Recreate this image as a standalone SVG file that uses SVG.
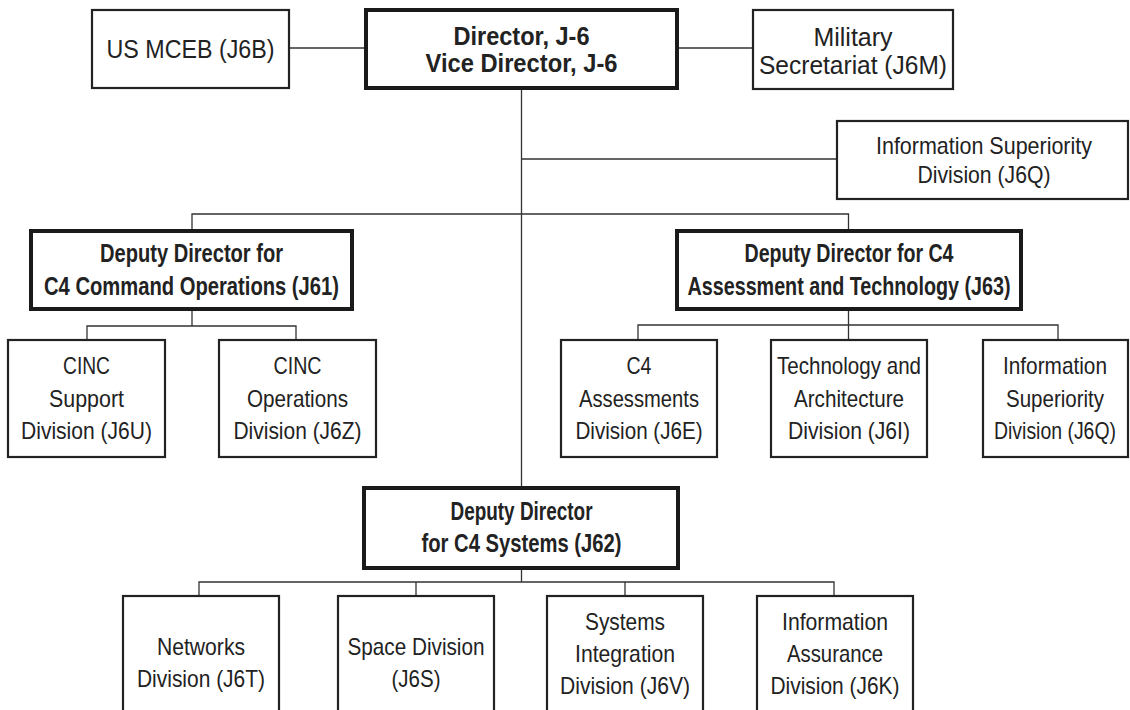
<svg xmlns="http://www.w3.org/2000/svg" width="1130" height="710" viewBox="0 0 1130 710">
  <style>
    .box { fill: #ffffff; stroke: #222222; stroke-width: 2.2; }
    .boxb { fill: #ffffff; stroke: #1a1a1a; stroke-width: 4; }
    .ln { fill: none; stroke: #333333; stroke-width: 1.3; }
    text { font-family: "Liberation Sans Narrow", "Liberation Sans", Arial, sans-serif; fill: #222222; text-anchor: middle; }
    .t { font-size: 24px; }
    .tl { font-size: 25.5px; }
    .tb { font-size: 25px; font-weight: bold; }
  </style>
  <rect width="1130" height="710" fill="#ffffff"/>

  <!-- reporting lines -->
  <g id="connectors">
    <path class="ln" d="M289,48 H366 M677,48 H753"/>
    <path class="ln" d="M521.5,88 V488 M521.5,159 H837"/>
    <path class="ln" d="M192,231 V214 H848.5 V231"/>
    <path class="ln" d="M192,309 V326 M87,340 V326 H296 V340"/>
    <path class="ln" d="M848.5,309 V340 M638,340 V325 H1058 V340"/>
    <path class="ln" d="M521.5,568 V582 M199,596 V582 H834 V596 M416,582 V596 M625,582 V596"/>
  </g>

  <g id="us-mceb">
    <rect class="box" x="92" y="10" width="197" height="78"/>
    <text class="tl" x="190.5" y="58" textLength="168" lengthAdjust="spacingAndGlyphs">US MCEB (J6B)</text>
  </g>

  <g id="director">
    <rect class="boxb" x="366" y="10" width="311" height="78"/>
    <text class="tb" x="521.5" y="45" textLength="136" lengthAdjust="spacingAndGlyphs">Director, J-6</text>
    <text class="tb" x="521.5" y="72" textLength="192" lengthAdjust="spacingAndGlyphs">Vice Director, J-6</text>
  </g>

  <g id="military-secretariat">
    <rect class="box" x="753" y="10" width="200" height="79"/>
    <text class="tl" x="853" y="46" textLength="79" lengthAdjust="spacingAndGlyphs">Military</text>
    <text class="tl" x="853" y="74" textLength="188" lengthAdjust="spacingAndGlyphs">Secretariat (J6M)</text>
  </g>

  <g id="info-superiority-staff">
    <rect class="box" x="837" y="121" width="291" height="78"/>
    <text class="t" x="984" y="154" textLength="216" lengthAdjust="spacingAndGlyphs">Information Superiority</text>
    <text class="t" x="984" y="183" textLength="133" lengthAdjust="spacingAndGlyphs">Division (J6Q)</text>
  </g>

  <g id="j61">
    <rect class="boxb" x="31" y="231" width="321" height="78"/>
    <text class="tb" x="191.5" y="262" textLength="183" lengthAdjust="spacingAndGlyphs">Deputy Director for</text>
    <text class="tb" x="191.5" y="295" textLength="295" lengthAdjust="spacingAndGlyphs">C4 Command Operations (J61)</text>
  </g>

  <g id="j63">
    <rect class="boxb" x="677" y="231" width="344" height="78"/>
    <text class="tb" x="849" y="262" textLength="209" lengthAdjust="spacingAndGlyphs">Deputy Director for C4</text>
    <text class="tb" x="849" y="295" textLength="323" lengthAdjust="spacingAndGlyphs">Assessment and Technology (J63)</text>
  </g>

  <g id="j6u">
    <rect class="box" x="8" y="340" width="157" height="117"/>
    <text class="t" x="86.5" y="374" textLength="47" lengthAdjust="spacingAndGlyphs">CINC</text>
    <text class="t" x="86.5" y="406.5" textLength="75" lengthAdjust="spacingAndGlyphs">Support</text>
    <text class="t" x="86.5" y="439" textLength="131" lengthAdjust="spacingAndGlyphs">Division (J6U)</text>
  </g>

  <g id="j6z">
    <rect class="box" x="219" y="340" width="157" height="117"/>
    <text class="t" x="297.5" y="374" textLength="48" lengthAdjust="spacingAndGlyphs">CINC</text>
    <text class="t" x="297.5" y="406.5" textLength="101" lengthAdjust="spacingAndGlyphs">Operations</text>
    <text class="t" x="297.5" y="439" textLength="128" lengthAdjust="spacingAndGlyphs">Division (J6Z)</text>
  </g>

  <g id="j6e">
    <rect class="box" x="561" y="340" width="156" height="117"/>
    <text class="t" x="639" y="374" textLength="25" lengthAdjust="spacingAndGlyphs">C4</text>
    <text class="t" x="639" y="406.5" textLength="120" lengthAdjust="spacingAndGlyphs">Assessments</text>
    <text class="t" x="639" y="439" textLength="127" lengthAdjust="spacingAndGlyphs">Division (J6E)</text>
  </g>

  <g id="j6i">
    <rect class="box" x="771" y="340" width="156" height="117"/>
    <text class="t" x="849" y="374" textLength="144" lengthAdjust="spacingAndGlyphs">Technology and</text>
    <text class="t" x="849" y="406.5" textLength="110" lengthAdjust="spacingAndGlyphs">Architecture</text>
    <text class="t" x="849" y="439" textLength="122" lengthAdjust="spacingAndGlyphs">Division (J6I)</text>
  </g>

  <g id="j6q">
    <rect class="box" x="983" y="340" width="145" height="117"/>
    <text class="t" x="1055" y="374" textLength="104" lengthAdjust="spacingAndGlyphs">Information</text>
    <text class="t" x="1055" y="406.5" textLength="98" lengthAdjust="spacingAndGlyphs">Superiority</text>
    <text class="t" x="1055" y="439" textLength="122" lengthAdjust="spacingAndGlyphs">Division (J6Q)</text>
  </g>

  <g id="j62">
    <rect class="boxb" x="364" y="488" width="314" height="80"/>
    <text class="tb" x="521.5" y="520" textLength="142" lengthAdjust="spacingAndGlyphs">Deputy Director</text>
    <text class="tb" x="521.5" y="552" textLength="200" lengthAdjust="spacingAndGlyphs">for C4 Systems (J62)</text>
  </g>

  <g id="j6t">
    <rect class="box" x="123" y="596" width="156" height="130"/>
    <text class="t" x="201" y="655" textLength="88" lengthAdjust="spacingAndGlyphs">Networks</text>
    <text class="t" x="201" y="687" textLength="128" lengthAdjust="spacingAndGlyphs">Division (J6T)</text>
  </g>

  <g id="j6s">
    <rect class="box" x="338" y="596" width="156" height="130"/>
    <text class="t" x="416" y="655" textLength="137" lengthAdjust="spacingAndGlyphs">Space Division</text>
    <text class="t" x="416" y="687" textLength="49" lengthAdjust="spacingAndGlyphs">(J6S)</text>
  </g>

  <g id="j6v">
    <rect class="box" x="547" y="596" width="156" height="130"/>
    <text class="t" x="625" y="630" textLength="80" lengthAdjust="spacingAndGlyphs">Systems</text>
    <text class="t" x="625" y="662" textLength="100" lengthAdjust="spacingAndGlyphs">Integration</text>
    <text class="t" x="625" y="694" textLength="130" lengthAdjust="spacingAndGlyphs">Division (J6V)</text>
  </g>

  <g id="j6k">
    <rect class="box" x="757" y="596" width="156" height="130"/>
    <text class="t" x="835" y="630" textLength="106" lengthAdjust="spacingAndGlyphs">Information</text>
    <text class="t" x="835" y="662" textLength="96" lengthAdjust="spacingAndGlyphs">Assurance</text>
    <text class="t" x="835" y="694" textLength="129" lengthAdjust="spacingAndGlyphs">Division (J6K)</text>
  </g>
</svg>
